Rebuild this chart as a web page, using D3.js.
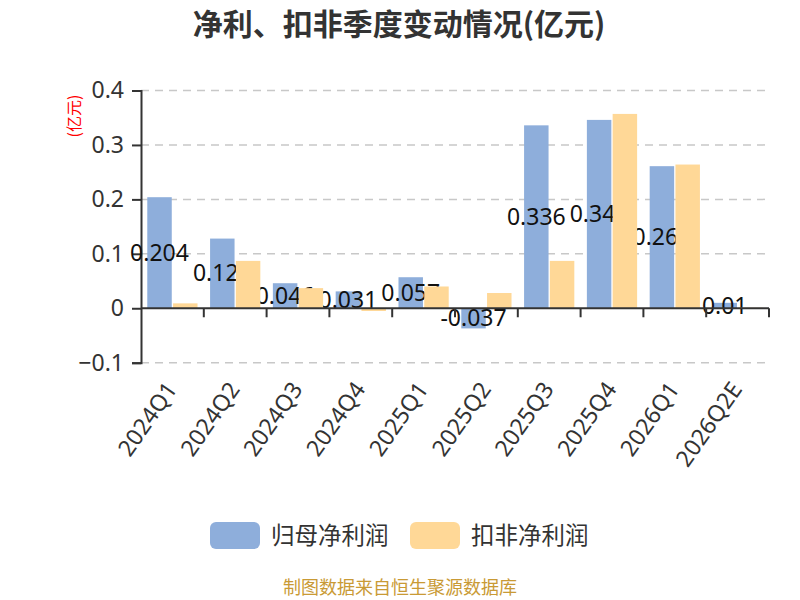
<!DOCTYPE html>
<html>
<head>
<meta charset="utf-8">
<script src="https://cdn.jsdelivr.net/npm/d3@7"></script>
<style>
  body { margin: 0; background: #fff; }
  svg text { font-family: "Noto Sans", "Noto Sans CJK SC", sans-serif; }
</style>
</head>
<body>
<div id="chart"></div>
<script>
const quarters = ["2024Q1", "2024Q2", "2024Q3", "2024Q4", "2025Q1", "2025Q2", "2025Q3", "2025Q4", "2026Q1", "2026Q2E"];
const netProfit = [0.204, 0.128, 0.046, 0.031, 0.057, -0.037, 0.336, 0.346, 0.261, 0.01];
const deductedProfit = [0.009, 0.087, 0.037, -0.005, 0.04, 0.028, 0.087, 0.357, 0.264, 0.001];
const seriesNames = ["归母净利润", "扣非净利润"];
const seriesColors = ["#8eaedb", "#ffd897"];
const yTicks = [-0.1, 0, 0.1, 0.2, 0.3, 0.4];

const W = 800, H = 600;
const plotLeft = 141, plotRight = 769, plotTop = 90.5, plotBottom = 362.7;

const svg = d3.select("#chart").append("svg")
    .attr("width", W)
    .attr("height", H);

// title
svg.append("text")
    .attr("x", 399)
    .attr("y", 35)
    .attr("text-anchor", "middle")
    .style("font-family", "'Noto Sans CJK SC', sans-serif")
    .style("font-size", "30px")
    .style("font-weight", "bold")
    .style("fill", "#333")
    .text("净利、扣非季度变动情况(亿元)");

const x = d3.scaleBand()
    .domain(quarters)
    .range([plotLeft, plotRight])
    .paddingInner(0.2)
    .paddingOuter(0.1);

const xs = d3.scaleBand()
    .domain([0, 1])
    .range([0, x.bandwidth()])
    .paddingInner(0.05);

const y = d3.scaleLinear()
    .domain([-0.1, 0.4])
    .range([plotBottom, plotTop]);

// grid lines
svg.append("g")
    .selectAll("line")
    .data(yTicks.filter(d => d !== 0))
    .join("line")
    .attr("x1", plotLeft)
    .attr("x2", plotRight)
    .attr("y1", d => y(d))
    .attr("y2", d => y(d))
    .style("stroke", "#c8c8c8")
    .style("stroke-width", 1.5)
    .style("stroke-dasharray", "8,6");

// y axis
const yAxis = svg.append("g")
    .attr("transform", `translate(${plotLeft},0)`)
    .call(d3.axisLeft(y).tickValues(yTicks).tickSize(9).tickPadding(8)
        .tickFormat(d => d === 0 ? "0" : d3.format(".1f")(d)));
yAxis.select(".domain").style("stroke", "#333").style("stroke-width", 2);
yAxis.selectAll(".tick line").style("stroke", "#333").style("stroke-width", 2);
yAxis.selectAll(".tick text")
    .style("font-size", "23px")
    .style("fill", "#333");

svg.append("text")
    .attr("transform", `translate(80,116) rotate(-90)`)
    .attr("text-anchor", "middle")
    .style("font-family", "'Noto Sans CJK SC', sans-serif")
    .style("font-size", "16px")
    .style("fill", "red")
    .text("(亿元)");

// blue bars
const rows = quarters.map((q, i) => ({ q, a: netProfit[i], b: deductedProfit[i] }));

svg.append("g")
    .selectAll("rect")
    .data(rows)
    .join("rect")
    .attr("x", d => x(d.q) + xs(0))
    .attr("y", d => y(Math.max(0, d.a)))
    .attr("width", xs.bandwidth())
    .attr("height", d => Math.abs(y(d.a) - y(0)))
    .style("fill", seriesColors[0]);

// labels of the first series, under the second series bars
svg.append("g")
    .selectAll("text")
    .data(rows)
    .join("text")
    .attr("x", d => x(d.q) + xs(0) + xs.bandwidth() / 2)
    .attr("y", d => (y(d.a) + y(0)) / 2)
    .attr("dy", "0.35em")
    .attr("text-anchor", "middle")
    .style("font-size", "23px")
    .style("fill", "#111")
    .text(d => d.a);

svg.append("g")
    .selectAll("rect")
    .data(rows)
    .join("rect")
    .attr("x", d => x(d.q) + xs(1))
    .attr("y", d => y(Math.max(0, d.b)))
    .attr("width", xs.bandwidth())
    .attr("height", d => Math.max(1, Math.abs(y(d.b) - y(0))))
    .style("fill", seriesColors[1]);

// x axis on zero line
const step = x.step();
const boundaries = d3.range(quarters.length + 1).map(i => plotLeft + i * step);
const xAxis = svg.append("g");
xAxis.append("line")
    .attr("x1", plotLeft)
    .attr("x2", plotRight)
    .attr("y1", y(0))
    .attr("y2", y(0))
    .style("stroke", "#333")
    .style("stroke-width", 2);
xAxis.selectAll(".xt")
    .data(boundaries.slice(1))
    .join("line")
    .attr("class", "xt")
    .attr("x1", d => d)
    .attr("x2", d => d)
    .attr("y1", y(0))
    .attr("y2", y(0) + 9)
    .style("stroke", "#333")
    .style("stroke-width", 2);

svg.append("g")
    .selectAll("text")
    .data(quarters)
    .join("text")
    .attr("transform", d => `translate(${x(d) + x.bandwidth() / 2 - 1},${plotBottom + 22}) rotate(-55)`)
    .attr("text-anchor", "end")
    .attr("dy", "0.35em")
    .style("font-size", "23px")
    .style("fill", "#333")
    .text(d => d);

// legend
const legend = svg.append("g");
const legendX = [210, 410];
seriesNames.forEach((name, i) => {
    legend.append("rect")
        .attr("x", legendX[i])
        .attr("y", 522)
        .attr("width", 50)
        .attr("height", 27)
        .attr("rx", 6)
        .style("fill", seriesColors[i]);
    legend.append("text")
        .attr("x", legendX[i] + 61)
        .attr("y", 536)
        .attr("dy", "0.35em")
        .style("font-family", "'Noto Sans CJK SC', sans-serif")
        .style("font-size", "23.5px")
        .style("fill", "#333")
        .text(name);
});

svg.append("text")
    .attr("x", 400)
    .attr("y", 588)
    .attr("dy", "0.35em")
    .attr("text-anchor", "middle")
    .style("font-family", "'Noto Sans CJK SC', sans-serif")
    .style("font-size", "18px")
    .style("fill", "#c99a35")
    .text("制图数据来自恒生聚源数据库");
</script>
</body>
</html>
